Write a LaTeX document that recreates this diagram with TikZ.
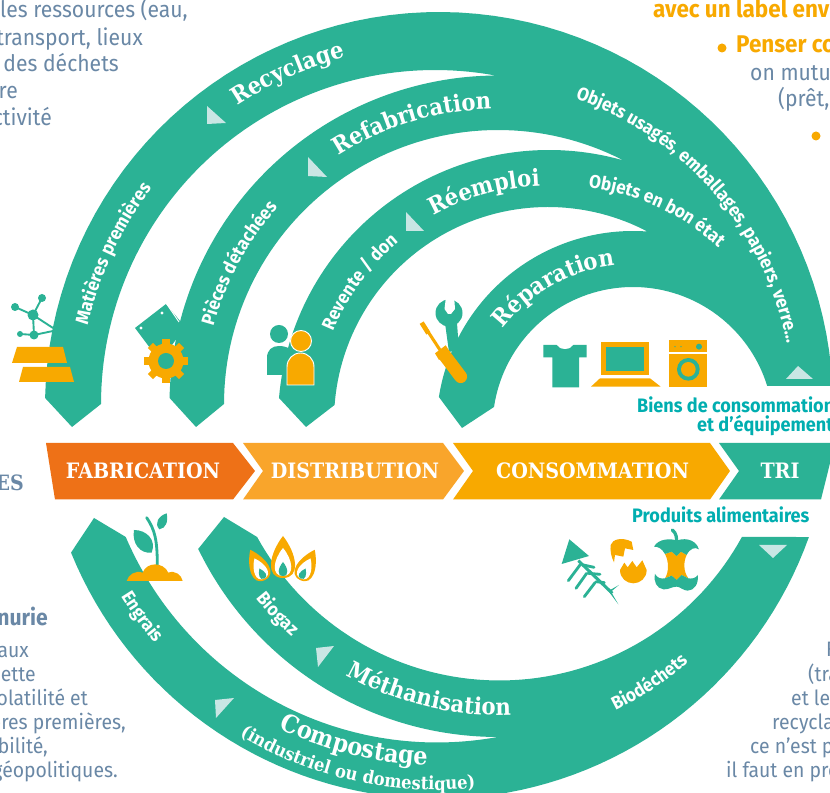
\documentclass[tikz,border=0pt]{standalone}
\usepackage{fontspec}
\setmainfont{Fira Sans}[FakeStretch=0.93]
\newfontfamily\slab{DejaVu Serif}[FakeStretch=0.9]
\usetikzlibrary{decorations.text}
\definecolor{band}{HTML}{2BB295}
\definecolor{amber}{HTML}{F8A900}
\definecolor{orangeA}{HTML}{EE7117}
\definecolor{orangeB}{HTML}{F9A52B}
\definecolor{greyb}{HTML}{6A88A6}
\definecolor{cyanl}{HTML}{00AEB0}
\definecolor{pale}{HTML}{C9E6E4}
\newcommand\tarc[7]{\path[decorate,decoration={text along path,text align=center,text={|#6|#7}}] plot[domain=#4:#5,samples=60,variable=\t]({#1+#3*cos(\t)},{793-(#2+#3*sin(\t))});}
\newcommand\slabA{\color{white}\slab\bfseries\fontsize{20.1}{22}\selectfont}
\newcommand\slabC{\color{white}\slab\bfseries\fontsize{21.2}{22}\selectfont}
\newcommand\slabB{\color{white}\slab\bfseries\fontsize{15.5}{16}\selectfont}
\newcommand\sansA{\color{white}\bfseries\fontsize{15.8}{16}\selectfont}
\tikzset{
 bodyt/.style={text=greyb,inner sep=0pt,font=\fontsize{19.4}{22}\selectfont},
 bodys/.style={text=greyb,inner sep=0pt,font=\fontsize{17.8}{20}\selectfont},
 headt/.style={text=amber,inner sep=0pt,font=\bfseries\fontsize{20.6}{22}\selectfont},
 cyant/.style={text=cyanl,inner sep=0pt,font=\bfseries\fontsize{16.6}{18}\selectfont},
 chev/.style={text=white,inner sep=0pt,font=\slab\bfseries\fontsize{18.1}{20}\selectfont},
}
\begin{document}
\begin{tikzpicture}[x=.03cm,y=.03cm]
\useasboundingbox (0,0) rectangle (830,793);
\clip (0,0) rectangle (830,793);
\fill[white] (0,0) rectangle (830,793);
\begin{scope}[shift={(0,793)},yscale=-1]
% upper bands
\fill[band,variable=\t,samples=70]
 plot[domain=-178.84:-2.9]({439+394*cos(\t)},{406+394*sin(\t)})
 -- (835,386) -- (767.2,386)
 -- plot[domain=-17.18:-171.6]({633+140.5*cos(\t)},{427.5+140.5*sin(\t)})
 -- (462,428)
 -- plot[domain=-171.07:-85.6]({633+196.5*cos(\t)},{427.5+196.5*sin(\t)})
 -- plot[domain=-62.15:-175.7]({548+214*cos(\t)},{421+214*sin(\t)})
 -- (306,427)
 -- plot[domain=-175.13:-74.4]({549+271*cos(\t)},{421+271*sin(\t)})
 -- plot[domain=-63.1:-180]({498+274*cos(\t)},{404+274*sin(\t)})
 -- (196,427)
 -- plot[domain=-178.95:-90.4]({498+328.5*cos(\t)},{404+328.5*sin(\t)})
 -- plot[domain=-79.55:-180]({435+334*cos(\t)},{404+334*sin(\t)})
 -- (72,427) -- cycle;
% lower bands
\fill[band,variable=\t,samples=70]
 plot[domain=19.68:157.9]({437+395*cos(\t)},{404+395*sin(\t)})
 -- (94,518)
 -- plot[domain=156.87:79.65]({437+338.5*cos(\t)},{404+338.5*sin(\t)})
 -- plot[domain=90.03:154.2]({498+333*cos(\t)},{404+333*sin(\t)})
 -- (224,517)
 -- plot[domain=151.25:28.75]({499.5+276.5*cos(\t)},{404+276.5*sin(\t)})
 -- cycle;
% pale arrow triangles
\fill[pale] (207,106)--(207,124)--(226,123)--cycle;
\fill[pale] (308,157)--(308,176)--(327,177)--cycle;
\fill[pale] (406,212)--(406,231)--(424,231)--cycle;
\fill[pale] (798,366)--(786,379)--(813,379)--cycle;
\fill[pale] (759,545)--(787,545)--(773,558)--cycle;
\fill[pale] (316,648)--(334,646)--(318,667)--cycle;
\fill[pale] (215,700)--(234,698)--(216,718)--cycle;
% chevrons
\fill[orangeA] (46,443)--(233,443)--(255,471)--(233,499.5)--(55,499.5)--cycle;
\fill[orangeB] (243,443)--(443,443)--(464,471)--(443,499.5)--(243,499.5)--(263,471)--cycle;
\fill[amber] (453,443)--(710,443)--(730,471)--(710,499.5)--(453,499.5)--(473,471)--cycle;
\fill[band] (719,443)--(835,443)--(821,499.5)--(719,499.5)--(739,471)--cycle;
\node[chev] (fab) at (143,471) {FABRICATION};
\node[chev] (dis) at (355,471) {DISTRIBUTION};
\node[chev] (con) at (592.5,471) {CONSOMMATION};
\node[chev] (tri) at (780,471) {TRI};
% texts top left
\node[bodyt,anchor=base east] (tl1) at (188,18) {les ressources (eau,};
\node[bodyt,anchor=base east] (tl2) at (143,46) {transport, lieux};
\node[bodyt,anchor=base east] (tl3) at (119,72) {des déchets};
\node[bodyt,anchor=base east] (tl4) at (18,99) {re};
\node[bodyt,anchor=base east] (tl5) at (52,126) {ctivité};
% texts top right
\node[headt,anchor=base west] (tr1) at (653,18) {avec un label env};
\fill[amber] (722,48) circle (4.5);
\node[headt,anchor=base west] (tr2) at (736,53) {Penser co};
\node[bodyt,anchor=base west] (tr3) at (750,81) {on mutu};
\node[bodyt,anchor=base west] (tr4) at (778,107) {(prêt,};
\fill[amber] (816,136) circle (4.5);
% left middle
\node[inner sep=0pt,text=greyb,anchor=base east,font=\slab\bfseries\fontsize{18}{20}\selectfont] (les) at (24,491) {ES};
\node[inner sep=0pt,text=greyb,anchor=base east,font=\bfseries\fontsize{19.4}{22}\selectfont] (nur) at (48,626) {nurie};
\node[bodys,anchor=base east] (l1) at (29,658) {aux};
\node[bodys,anchor=base east] (l2) at (36,682) {ette};
\node[bodys,anchor=base east] (l3) at (88,706) {olatilité et};
\node[bodys,anchor=base east] (l4) at (126,730) {ères premières,};
\node[bodys,anchor=base east] (l5) at (48,754) {bilité,};
\node[bodys,anchor=base east] (l6) at (118,778) {géopolitiques.};
% right lower
\node[bodys,anchor=base west] (r1) at (826,657) {F};
\node[bodys,anchor=base west] (r2) at (808,682) {(tra};
\node[bodys,anchor=base west] (r3) at (791,706) {et les};
\node[bodys,anchor=base west] (r4) at (772,730) {recycla};
\node[bodys,anchor=base west] (r5) at (750,754) {ce n'est p};
\node[bodys,anchor=base west] (r6) at (726,778) {il faut en pro};
% cyan labels
\node[cyant,anchor=base west] (c1) at (637,413) {Biens de consommation};
\node[cyant,anchor=base west] (c2) at (697,432) {et d’équipement};
\node[cyant,anchor=base west] (c3) at (632,523) {Produits alimentaires};
% molecule
\draw[band,line width=1.6pt] (15,307)--(33,315)--(42,298) (33,315)--(34,335)--(20,334) (33,315)--(53,328) (34,335)--(53,331);
\fill[band] (15,307) circle (4) (42,298) circle (4) (33,315) circle (5.5) (34,335) circle (4.5) (20,334) circle (3);
% gold bars
\fill[amber] (17,347)--(63,347)--(67,363)--(12,363)--cycle;
\fill[amber] (23,367)--(70,367)--(74,382)--(19,382)--cycle;
% tablet and gear
\fill[band] (135,328)--(166,304)--(185,327)--(172,345)--(150,348)--cycle;
\fill[white] (141,328) circle (1.6) (162,313) circle (1.6);
\draw[white,line width=.8pt] (166,303)--(179,322);
\foreach \a in {0,45,...,315}
 \fill[amber,rotate around={\a:(166,361)}] (162.3,339) rectangle (169.7,350);
\fill[amber] (166,361) circle (17.5);
\fill[band] (166,361) circle (8);
% people
\fill[band] (279,334) circle (9);
\fill[band] (267,375)--(267,358) .. controls (267,350) and (272,346) .. (279,346) .. controls (287,346) and (295,350) .. (295,358) -- (295,375) -- cycle;
\fill[amber,draw=white,line width=.8pt] (301,341) circle (10.5);
\fill[amber,draw=white,line width=.8pt] (287,385)--(287,367) .. controls (287,359) and (293,353) .. (300.5,353) .. controls (308,353) and (314,359) .. (314,367) -- (314,385) -- cycle;
% wrench and screwdriver
\fill[band] (449,313) circle (13.5);
\fill[band] (445,323)--(457,323)--(459,350)--(449,352)--cycle;
\fill[white] (445.7,299) -- (454.3,299) -- (455,309) -- (451,314) -- (448,314) -- (444.5,309) -- cycle;
\begin{scope}[shift={(415,0)},scale=1/3]
 \draw[amber,line width=2.6pt] (24,972)--(75,1050);
 \draw[amber,line width=4pt] (20,968)--(40,1000);
 \fill[amber] (60,1060)--(92,1036)--(105,1056)--(72,1080)--cycle;
 \draw[amber,line width=11pt,line cap=round] (88,1065)--(137,1130);
 % T-shirt
 \fill[band] (385,1035)--(425,1035) .. controls (435,1052) and (465,1052) .. (475,1035) -- (515,1035)--(515,1072)--(492,1072)--(492,1162)--(412,1162)--(412,1072)--(385,1072)--cycle;
 % laptop
 \fill[amber] (558,1027) rectangle (702,1125);
 \fill[band] (573,1042) rectangle (688,1112);
 \fill[amber] (555,1135)--(705,1135)--(737,1160)--(528,1160)--cycle;
 % washer
 \fill[amber] (762,1020) rectangle (876,1160);
 \fill[white] (762,1055) rectangle (876,1062);
 \fill[band] (852,1040) circle (9) (780,1040) circle (2) (798,1040) circle (2);
 \fill[band] (820,1108) circle (34);
 \fill[amber] (820,1108) circle (22);
\end{scope}
% plant
\begin{scope}[shift={(0,430)},scale=1/3]
 \draw[band,line width=2.4pt,line cap=round] (440,263) .. controls (465,300) and (472,330) .. (472,410);
 \fill[band] (500,250) .. controls (475,258) and (462,280) .. (478,298) .. controls (498,295) and (505,275) .. (500,250) -- cycle;
 \fill[band] (402,300) .. controls (395,340) and (420,372) .. (455,368) .. controls (470,330) and (440,300) .. (402,300) -- cycle;
 \fill[amber] (380,453) .. controls (385,435) and (405,420) .. (428,428) .. controls (440,395) and (490,395) .. (505,428) .. controls (525,420) and (545,435) .. (548,453) -- cycle;
\end{scope}
% flames
\foreach \bx/\by/\rot/\sc in {283/578/0/1,265/580/-26/.8,300/580/26/.8}{
 \begin{scope}[shift={(\bx,\by)},rotate=\rot,scale=\sc]
  \fill[amber] (0,0) .. controls (-18,0) and (-14,-24) .. (0,-42) .. controls (14,-24) and (18,0) .. (0,0) -- cycle;
  \fill[white] (0,-2) .. controls (-12,-2) and (-10,-18) .. (0,-30) .. controls (10,-18) and (12,-2) .. (0,-2) -- cycle;
  \fill[band] (0,-2) .. controls (-6.5,-2) and (-5,-10) .. (0,-16) .. controls (5,-10) and (6.5,-2) .. (0,-2) -- cycle;
 \end{scope}
}
% food
\begin{scope}[shift={(415,430)},scale=1/3]
 % fish
 \fill[band] (463,328)--(522,378)--(440,402)--cycle;
 \draw[band,line width=2.6pt] (490,392)--(592,490);
 \fill[band] (612,465)--(580,483)--(610,523)--(588,485)--cycle;
 \draw[band,line width=2.4pt,line cap=round] (505,405)--(537,412) (520,430)--(555,433) (543,455)--(568,458)
   (495,405)--(460,452) (515,430)--(483,475) (540,458)--(508,500);
 % egg
 \fill[amber] (587,345) .. controls (592,328) and (620,320) .. (650,335) -- (655,360) -- (630,355) -- (625,380) -- (600,375) -- (597,397) .. controls (588,380) and (585,360) .. (587,345) -- cycle;
 \fill[amber] (615,420)--(628,398)--(638,412)--(652,393)--(665,412)--(682,391)--(695,420) .. controls (695,445) and (675,460) .. (655,460) .. controls (635,460) and (615,445) .. (615,420) -- cycle;
 % apple core
 \fill[amber] (750,372)--(770,365)--(785,378)--(798,365)--(815,375) .. controls (805,395) and (805,425) .. (820,445) -- (800,435)--(785,450)--(770,437)--(750,445) .. controls (762,425) and (762,395) .. (750,372) -- cycle;
 \draw[band,line width=2.8pt,line cap=round] (772,300) .. controls (785,310) and (785,325) .. (785,340);
 \fill[band] (717,350) .. controls (730,325) and (770,325) .. (785,332) .. controls (800,325) and (840,322) .. (852,358) .. controls (840,350) and (825,355) .. (815,375) -- (798,365)--(785,378)--(770,365)--(750,372) .. controls (740,355) and (730,350) .. (717,350) -- cycle;
 \fill[band] (720,432) .. controls (728,445) and (738,447) .. (750,445) -- (770,437)--(785,450)--(800,435)--(820,445) .. controls (830,447) and (842,445) .. (848,435) .. controls (852,460) and (838,482) .. (818,482) .. controls (805,482) and (795,470) .. (785,470) .. controls (770,470) and (760,480) .. (745,478) .. controls (725,475) and (715,455) .. (720,432) -- cycle;
\end{scope}
\end{scope}
% arc labels
\tarc{435}{404}{358}{-128}{-100}{\slabA}{Recyclage}
\tarc{498}{404}{295}{-125}{-89}{\slabA}{Refabrication}
\tarc{548}{421}{235}{-124}{-87.2}{\slabA}{Réemploi}
\tarc{633}{427.5}{163}{-150}{-89.2}{\slabA}{Réparation}
\tarc{498}{404}{311}{125}{82}{\slabA}{Méthanisation}
\tarc{437}{404}{361}{121}{86.5}{\slabC}{Compostage}
\tarc{437}{404}{386}{128}{77}{\slabB}{(industriel ou domestique)}
\tarc{435}{404}{356}{-172}{-138}{\sansA}{Matières premières}
\tarc{498}{404}{295}{-170}{-133}{\sansA}{Pièces détachées}
\tarc{548}{421}{233}{-162}{-125.2}{\sansA}{Revente / don}
\tarc{465}{407}{328}{-77}{-4.4}{\sansA}{Objets usagés, emballages, papiers, verre…}
\tarc{560}{421}{235}{-89}{-41.6}{\sansA}{Objets en bon état}
\tarc{498}{404}{311}{149}{123.8}{\sansA}{Biogaz}
\tarc{437}{404}{370}{156}{132.4}{\sansA}{Engrais}
\tarc{465}{407}{339}{71}{41.4}{\sansA}{Biodéchets}
\end{tikzpicture}
\end{document}
